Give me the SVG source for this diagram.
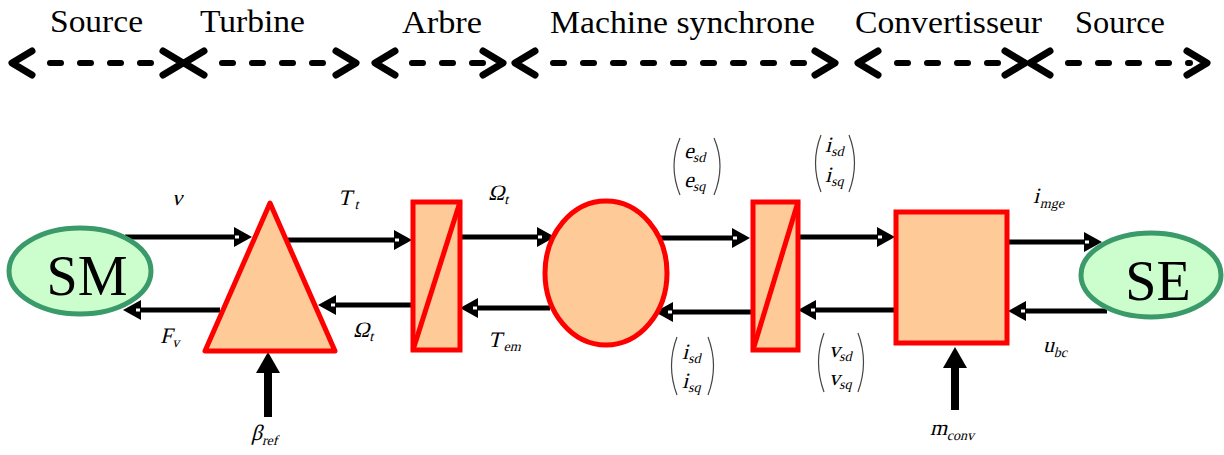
<svg xmlns="http://www.w3.org/2000/svg" xmlns:xlink="http://www.w3.org/1999/xlink" width="1224" height="455" viewBox="0 0 1224 455">
<style>
.hdr{font-family:"Liberation Serif","Times New Roman",serif;font-size:32px;fill:#000}
.dash{stroke:#000;stroke-width:6;stroke-linecap:round;stroke-dasharray:11 19;fill:none}
.chev{stroke:#000;stroke-width:7;stroke-linecap:round;stroke-linejoin:round;fill:none}
.blk{fill:#fdca98;stroke:#ff0000;stroke-width:5}
.src{fill:#ccfdcc;stroke:#3a9a6a;stroke-width:5}
.big{font-family:"Liberation Serif","Times New Roman",serif;font-size:56px;fill:#000}
.lbl{font-family:"Liberation Serif","Times New Roman",serif;font-size:22px;fill:#000}
.sub{font-size:14px}
.par{fill:none;stroke:#444;stroke-width:1.2}
.flow{stroke:#000;stroke-width:5;fill:none}
.ctl{stroke:#000;stroke-width:8;fill:none}
</style>
<defs>
<marker id="ah" markerUnits="userSpaceOnUse" viewBox="-1 -11 21 22" refX="0" refY="0" markerWidth="21" markerHeight="22" orient="auto">
<path d="M0,-10 L18,0 L0,10 Z" fill="#000"/>
<rect x="1" y="-1.5" width="4" height="3" fill="#fff"/>
</marker>
<marker id="bh" markerUnits="userSpaceOnUse" viewBox="-1 -13 23 26" refX="0" refY="0" markerWidth="23" markerHeight="26" orient="auto">
<path d="M0,-12 L21,0 L0,12 Z" fill="#000"/>
</marker>
<path id="chevL" class="chev" d="M20,-12 L0,0 L20,12"/>
<path id="chevR" class="chev" d="M-20,-12 L0,0 L-20,12"/>
</defs>

<g id="header">
<text class="hdr" x="50" y="32" textLength="93" lengthAdjust="spacingAndGlyphs">Source</text>
<text class="hdr" x="200" y="32" textLength="105" lengthAdjust="spacingAndGlyphs">Turbine</text>
<text class="hdr" x="402" y="33" textLength="80" lengthAdjust="spacingAndGlyphs">Arbre</text>
<text class="hdr" x="550" y="33" textLength="265" lengthAdjust="spacingAndGlyphs">Machine synchrone</text>
<text class="hdr" x="855" y="33" textLength="187" lengthAdjust="spacingAndGlyphs">Convertisseur</text>
<text class="hdr" x="1075" y="33" textLength="90" lengthAdjust="spacingAndGlyphs">Source</text>
<line class="dash" x1="50" y1="63" x2="165" y2="63"/>
<line class="dash" x1="222" y1="63" x2="340" y2="63"/>
<line class="dash" x1="412" y1="63" x2="490" y2="63"/>
<line class="dash" x1="553" y1="63" x2="820" y2="63"/>
<line class="dash" x1="897" y1="63" x2="1010" y2="63"/>
<line class="dash" x1="1068" y1="63" x2="1190" y2="63"/>
<use xlink:href="#chevL" x="12" y="63"/>
<use xlink:href="#chevR" x="183" y="63"/>
<use xlink:href="#chevL" x="184" y="63"/>
<use xlink:href="#chevR" x="356" y="63"/>
<use xlink:href="#chevL" x="375" y="63"/>
<use xlink:href="#chevR" x="503" y="63"/>
<use xlink:href="#chevL" x="515" y="63"/>
<use xlink:href="#chevR" x="835" y="63"/>
<use xlink:href="#chevL" x="858" y="63"/>
<use xlink:href="#chevR" x="1025" y="63"/>
<use xlink:href="#chevL" x="1030" y="63"/>
<use xlink:href="#chevR" x="1207" y="63"/>
</g>

<g id="connectors">
<line class="flow" x1="125" y1="237" x2="234" y2="237" marker-end="url(#ah)"/>
<line class="flow" x1="220" y1="310" x2="141" y2="310" marker-end="url(#ah)"/>
<line class="flow" x1="288" y1="240" x2="394" y2="240" marker-end="url(#ah)"/>
<line class="flow" x1="412" y1="305" x2="336" y2="305" marker-end="url(#ah)"/>
<line class="flow" x1="460" y1="237" x2="537" y2="237" marker-end="url(#ah)"/>
<line class="flow" x1="550" y1="308" x2="478" y2="308" marker-end="url(#ah)"/>
<line class="flow" x1="655" y1="238" x2="732" y2="238" marker-end="url(#ah)"/>
<line class="flow" x1="753" y1="312" x2="673" y2="312" marker-end="url(#ah)"/>
<line class="flow" x1="800" y1="237" x2="877" y2="237" marker-end="url(#ah)"/>
<line class="flow" x1="895" y1="310" x2="816" y2="310" marker-end="url(#ah)"/>
<line class="flow" x1="1005" y1="242" x2="1084" y2="242" marker-end="url(#ah)"/>
<line class="flow" x1="1107" y1="311" x2="1026" y2="311" marker-end="url(#ah)"/>
<line class="ctl" x1="268" y1="417" x2="268" y2="373" marker-end="url(#bh)"/>
<line class="ctl" x1="955" y1="410" x2="955" y2="368" marker-end="url(#bh)"/>
</g>

<g id="SM">
<ellipse class="src" cx="80" cy="271" rx="71" ry="43"/>
<text class="big" x="87" y="295" text-anchor="middle">SM</text>
</g>
<g id="turbine">
<polygon class="blk" points="270,203 205,351 335,351" stroke-linejoin="round"/>
</g>
<g id="arbre">
<rect class="blk" x="413" y="202" width="47" height="148"/>
<line x1="413" y1="350" x2="460" y2="202" stroke="#ff0000" stroke-width="5"/>
</g>
<g id="machine">
<ellipse class="blk" cx="606" cy="273" rx="61" ry="72"/>
</g>
<g id="park">
<rect class="blk" x="753" y="202" width="45" height="148"/>
<line x1="753" y1="350" x2="798" y2="202" stroke="#ff0000" stroke-width="5"/>
</g>
<g id="convertisseur">
<rect class="blk" x="896" y="212" width="111" height="131"/>
</g>
<g id="SE">
<ellipse class="src" cx="1151" cy="275" rx="70" ry="42"/>
<text class="big" x="1158" y="300" text-anchor="middle">SE</text>
</g>

<g id="labels">
<text class="lbl" transform="translate(172,205) skewX(-14)">ν</text>
<text class="lbl" transform="translate(338,205) skewX(-14)">T<tspan class="sub" dx="4" dy="4">t</tspan></text>
<text class="lbl" transform="translate(160,343) skewX(-14)">F<tspan class="sub" dx="1" dy="4">v</tspan></text>
<text class="lbl" transform="translate(353,337) skewX(-14)">Ω<tspan class="sub" dx="1" dy="4">t</tspan></text>
<text class="lbl" transform="translate(251,440) skewX(-14)">β<tspan class="sub" dx="1" dy="5">ref</tspan></text>
<text class="lbl" transform="translate(488,200) skewX(-14)">Ω<tspan class="sub" dx="1" dy="4">t</tspan></text>
<text class="lbl" transform="translate(488,347) skewX(-14)">T<tspan class="sub" dx="3" dy="4">em</tspan></text>
<text class="lbl" transform="translate(1033,203) skewX(-14)">i<tspan class="sub" dx="2" dy="5">mge</tspan></text>
<text class="lbl" transform="translate(1043,352) skewX(-14)">u<tspan class="sub" dx="1" dy="5">bc</tspan></text>
<text class="lbl" transform="translate(930,435) skewX(-14)">m<tspan class="sub" dx="1" dy="5">conv</tspan></text>

<path class="par" d="M680,138 Q668,166 680,195"/>
<path class="par" d="M714,138 Q726,166 714,195"/>
<text class="lbl" transform="translate(684,158) skewX(-14)">e<tspan class="sub" dx="0" dy="4">sd</tspan></text>
<text class="lbl" transform="translate(684,187) skewX(-14)">e<tspan class="sub" dx="0" dy="4">sq</tspan></text>

<path class="par" d="M821,135 Q810,163 821,192"/>
<path class="par" d="M849,135 Q860,163 849,192"/>
<text class="lbl" transform="translate(825,152) skewX(-14)">i<tspan class="sub" dx="1" dy="4">sd</tspan></text>
<text class="lbl" transform="translate(825,182) skewX(-14)">i<tspan class="sub" dx="1" dy="4">sq</tspan></text>

<path class="par" d="M677,337 Q666,366 677,395"/>
<path class="par" d="M708,337 Q719,366 708,395"/>
<text class="lbl" transform="translate(682,359) skewX(-14)">i<tspan class="sub" dx="1" dy="4">sd</tspan></text>
<text class="lbl" transform="translate(682,388) skewX(-14)">i<tspan class="sub" dx="1" dy="4">sq</tspan></text>

<path class="par" d="M824,333 Q813,362 824,392"/>
<path class="par" d="M858,333 Q869,362 858,392"/>
<text class="lbl" transform="translate(829,357) skewX(-14)">v<tspan class="sub" dx="0" dy="4">sd</tspan></text>
<text class="lbl" transform="translate(829,385) skewX(-14)">v<tspan class="sub" dx="0" dy="4">sq</tspan></text>
</g>
</svg>
